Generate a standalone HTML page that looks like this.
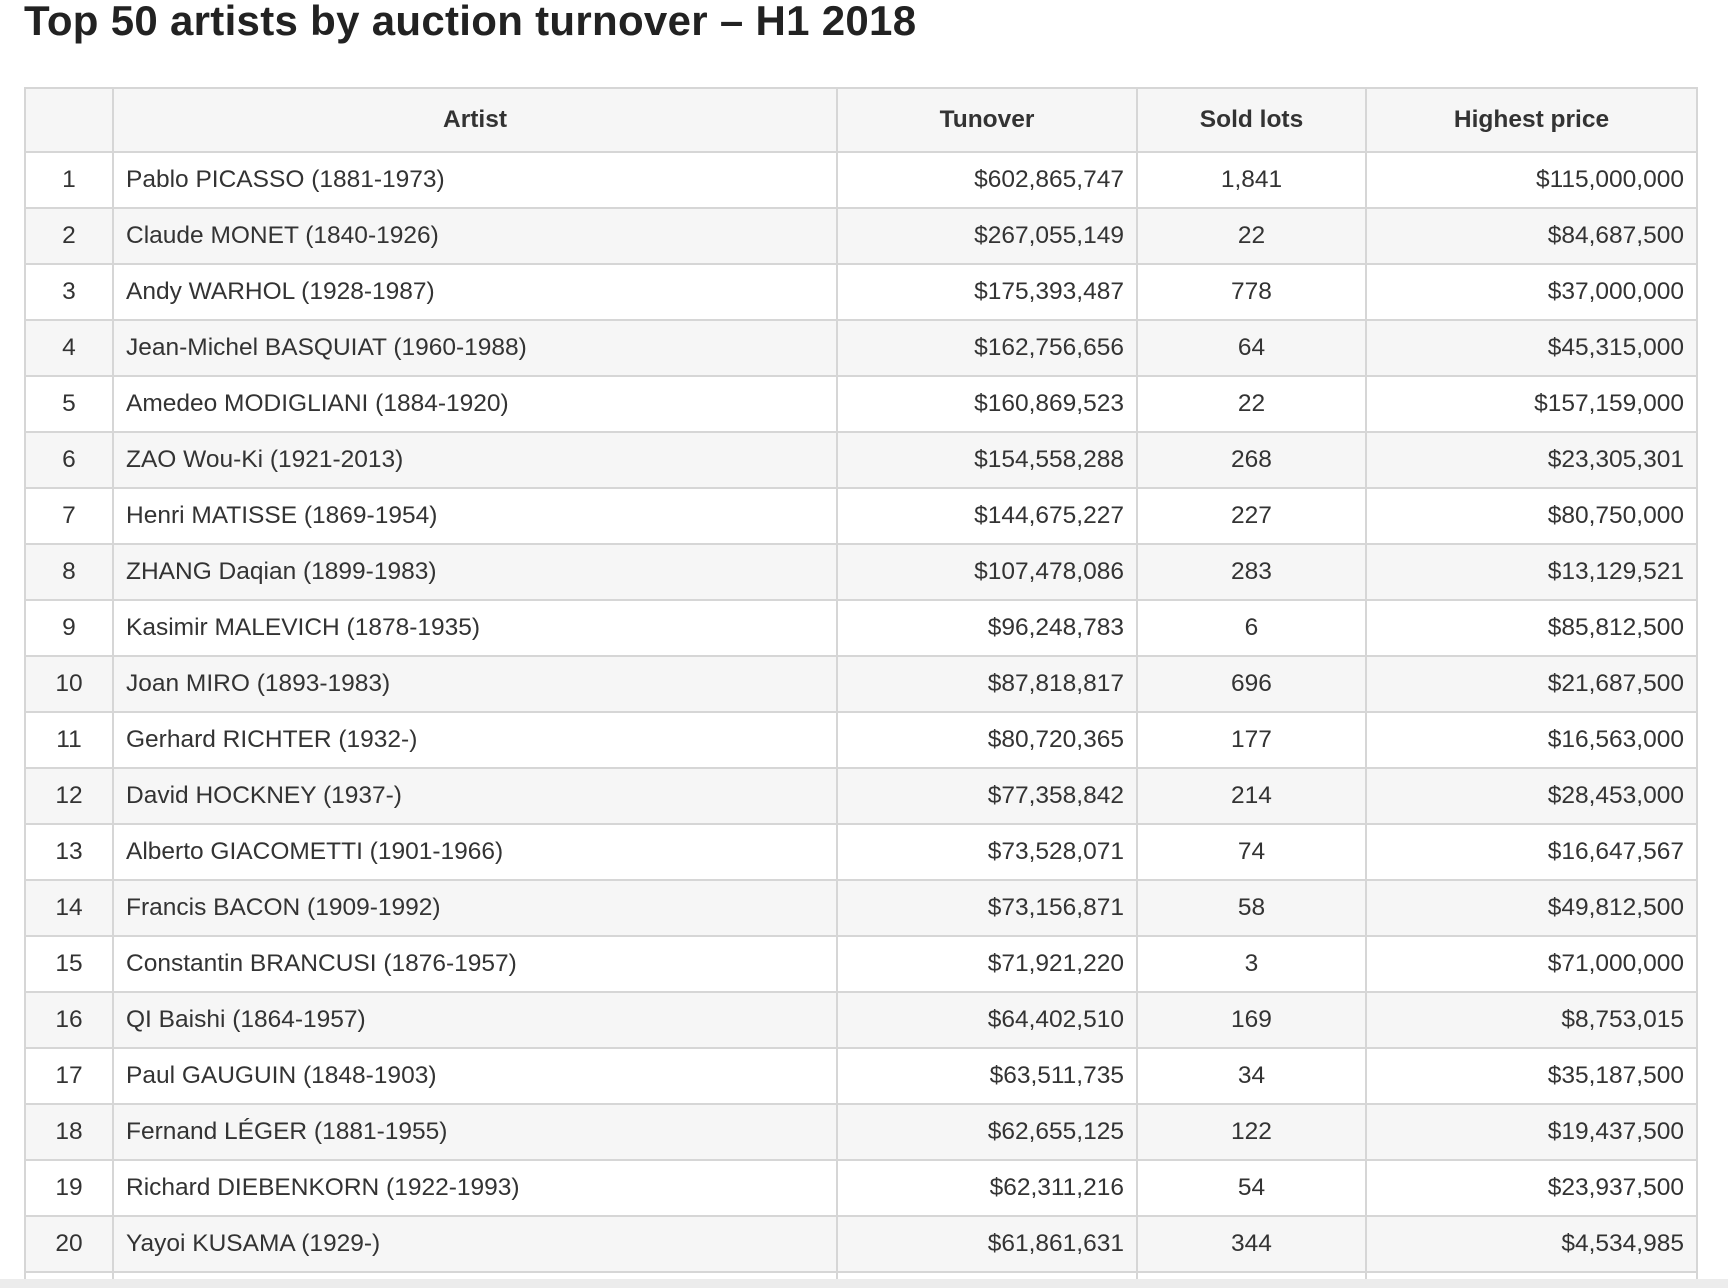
<!DOCTYPE html>
<html><head><meta charset="utf-8"><style>
html,body{margin:0;padding:0;background:#fff;width:1728px;height:1288px;overflow:hidden;font-family:"Liberation Sans",sans-serif;color:#333;}
#wrap{position:relative;width:1728px;height:1288px;overflow:hidden;}
h1{position:absolute;left:24px;top:-3px;margin:0;font-size:42px;font-weight:bold;color:#222;letter-spacing:0.3px;}
#tbox{position:absolute;left:24px;top:87px;width:1700px;height:1192px;overflow:hidden;}
table{border-collapse:collapse;table-layout:fixed;font-size:24.5px;}
td,th{border:2px solid #d6d6d6;height:54px;padding:0 12px;white-space:nowrap;overflow:hidden;}
th{height:62px;background:#f6f6f6;font-weight:bold;color:#333;text-align:center;}
tr:nth-child(even) td{background:#f6f6f6;}
td.n{text-align:center;}td.a{text-align:left;}td.r{text-align:right;}td.c{text-align:center;}
#strip{position:absolute;left:0;top:1279px;width:1728px;height:9px;background:#ececec;}
</style></head><body><div id="wrap">
<h1>Top 50 artists by auction turnover – H1 2018</h1>
<div id="tbox">
<table>
<colgroup><col style="width:88px"><col style="width:724px"><col style="width:300px"><col style="width:229px"><col style="width:331px"></colgroup>
<thead><tr><th></th><th>Artist</th><th>Tunover</th><th>Sold lots</th><th>Highest price</th></tr></thead>
<tbody id="tb"></tbody></table>
</div>
<div id="strip"></div>
</div>
<script>
const artists=["Pablo PICASSO (1881-1973)","Claude MONET (1840-1926)","Andy WARHOL (1928-1987)","Jean-Michel BASQUIAT (1960-1988)","Amedeo MODIGLIANI (1884-1920)","ZAO Wou-Ki (1921-2013)","Henri MATISSE (1869-1954)","ZHANG Daqian (1899-1983)","Kasimir MALEVICH (1878-1935)","Joan MIRO (1893-1983)","Gerhard RICHTER (1932-)","David HOCKNEY (1937-)","Alberto GIACOMETTI (1901-1966)","Francis BACON (1909-1992)","Constantin BRANCUSI (1876-1957)","QI Baishi (1864-1957)","Paul GAUGUIN (1848-1903)","Fernand LÉGER (1881-1955)","Richard DIEBENKORN (1922-1993)","Yayoi KUSAMA (1929-)",""];
const turnover=["$602,865,747","$267,055,149","$175,393,487","$162,756,656","$160,869,523","$154,558,288","$144,675,227","$107,478,086","$96,248,783","$87,818,817","$80,720,365","$77,358,842","$73,528,071","$73,156,871","$71,921,220","$64,402,510","$63,511,735","$62,655,125","$62,311,216","$61,861,631",""];
const lots=["1,841","22","778","64","22","268","227","283","6","696","177","214","74","58","3","169","34","122","54","344",""];
const highest=["$115,000,000","$84,687,500","$37,000,000","$45,315,000","$157,159,000","$23,305,301","$80,750,000","$13,129,521","$85,812,500","$21,687,500","$16,563,000","$28,453,000","$16,647,567","$49,812,500","$71,000,000","$8,753,015","$35,187,500","$19,437,500","$23,937,500","$4,534,985",""];
const tb=document.getElementById('tb');
artists.forEach((a,i)=>{
 const tr=document.createElement('tr');
 
 
 const vals=[a?String(i+1):"",a,turnover[i],lots[i],highest[i]];
 const cls=['n','a','r','c','r'];
 const names=['rank-cell','artist-cell','turnover-cell','sold-lots-cell','highest-price-cell'];
 vals.forEach((v,j)=>{
  const td=document.createElement('td');
  td.className=cls[j];td.textContent=v;
  
  
  tr.appendChild(td);
 });
 tb.appendChild(tr);
});
</script>
</body></html>
